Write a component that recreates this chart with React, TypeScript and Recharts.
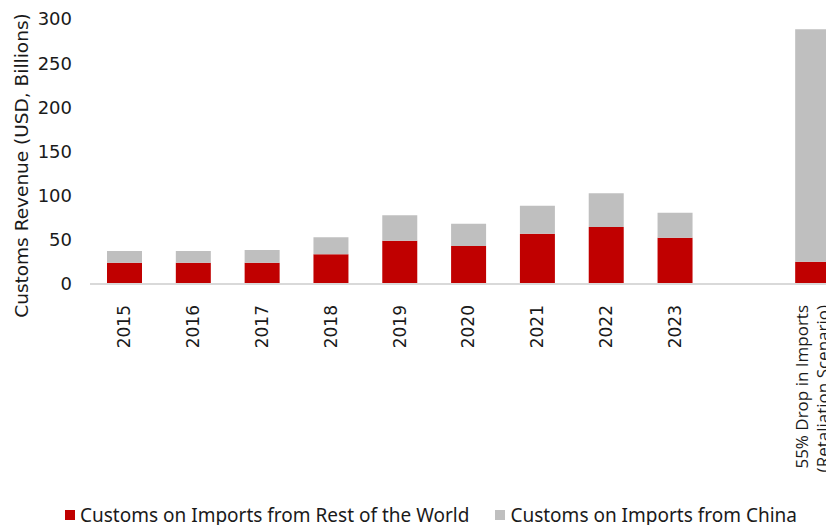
import { BarChart, Bar, XAxis, YAxis, Legend } from 'recharts'

const categories = ['2015', '2016', '2017', '2018', '2019', '2020', '2021', '2022', '2023', '', '55% Drop in Imports|(Retaliation Scenario)']
const restOfWorld = [24, 24, 24, 33.6, 49, 43, 57, 64.5, 52.4, null, 25.3]
const china = [13.5, 13.5, 14.5, 19.3, 28.8, 25.3, 31.7, 38.2, 28.3, null, 263]
const yTicks = [0, 50, 100, 150, 200, 250, 300]
const seriesNames = ['Customs on Imports from Rest of the World', 'Customs on Imports from China']
const seriesColors = ['#C00000', '#BFBFBF']
const yTitle = 'Customs Revenue (USD, Billions)'

const data = categories.map((name, i) => ({
  name,
  row: restOfWorld[i],
  china: china[i],
}))

function XTick({ x, y, payload }: any) {
  const lines = String(payload.value).split('|').filter(Boolean)
  const font = lines.length > 1 ? '"Open Sans", sans-serif' : '"DejaVu Sans", sans-serif'
  return (
    <g transform={`translate(${x},${y + 13})`}>
      <text transform="rotate(-90)" textAnchor="end" fontSize={17} fill="#1a1a1a" fontFamily={font}>
        {lines.map((l, i) => (
          <tspan key={i} x={0} dy={i === 0 ? `${0.35 - (lines.length - 1) * 0.6}em` : '1.2em'}>{l}</tspan>
        ))}
      </text>
    </g>
  )
}

function YTitle({ viewBox }: any) {
  const cx = viewBox.x + 21
  const cy = viewBox.y + viewBox.height / 2 + 14
  return (
    <text x={cx} y={cy} transform={`rotate(-90 ${cx} ${cy})`} textAnchor="middle" dominantBaseline="central"
      fontSize={18.5} fill="#1a1a1a" fontFamily='"DejaVu Sans", sans-serif'>{yTitle}</text>
  )
}

function LegendContent() {
  return (
    <div style={{ display: 'flex', justifyContent: 'center', gap: 26, paddingLeft: 15, fontFamily: '"Noto Sans", sans-serif', fontSize: 19, color: '#1a1a1a' }}>
      {seriesNames.map((n, i) => (
        <div key={n} style={{ display: 'flex', alignItems: 'center' }}>
          <span style={{ width: 10, height: 10, background: seriesColors[i], marginRight: 5, display: 'inline-block' }} />
          <span>{n}</span>
        </div>
      ))}
    </div>
  )
}

export default function App() {
  return (
    <div style={{ position: 'absolute', left: 0, top: 0, width: 826, height: 525, overflow: 'hidden', background: '#fff' }}>
      <BarChart width={862} height={525} data={data} barSize={35}
        margin={{ top: 19, right: 15, left: 0, bottom: 0 }}>
        <XAxis dataKey="name" interval={0} tick={<XTick />} tickLine={false}
          axisLine={{ stroke: '#D9D9D9', strokeWidth: 2 }} height={215} />
        <YAxis domain={[0, 300]} ticks={yTicks} width={90} axisLine={false} tickLine={false}
          tickMargin={12}
          tick={{ fontSize: 18, fill: '#1a1a1a', fontFamily: '"DejaVu Sans", sans-serif' }}
          label={<YTitle />} />
        <Legend verticalAlign="bottom" content={<LegendContent />} wrapperStyle={{ bottom: -3 }} />
        <Bar dataKey="row" name={seriesNames[0]} stackId="a" fill={seriesColors[0]} isAnimationActive={false} />
        <Bar dataKey="china" name={seriesNames[1]} stackId="a" fill={seriesColors[1]} isAnimationActive={false} />
      </BarChart>
    </div>
  )
}
